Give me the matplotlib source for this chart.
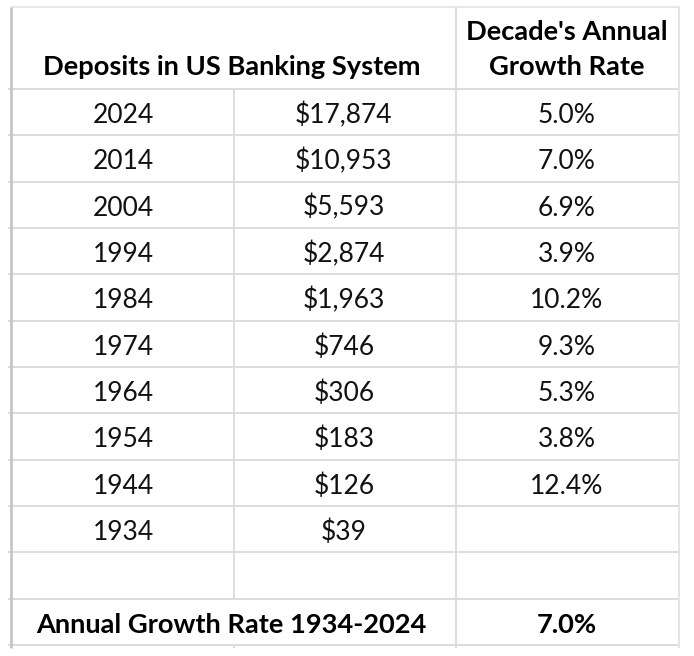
import matplotlib
matplotlib.use("Agg")
import matplotlib.pyplot as plt

# ---- data ----
years = [2024, 2014, 2004, 1994, 1984, 1974, 1964, 1954, 1944, 1934]
deposits = [17874, 10953, 5593, 2874, 1963, 746, 306, 183, 126, 39]
growth = [5.0, 7.0, 6.9, 3.9, 10.2, 9.3, 5.3, 3.8, 12.4, None]
header_left = "Deposits in US Banking System"
header_right = ["Decade's Annual", "Growth Rate"]
summary_label = "Annual Growth Rate 1934-2024"
summary_value = 7.0

# ---- layout (pixels) ----
W, H = 694, 656
fig = plt.figure(figsize=(W / 100, H / 100), dpi=100)
ax = fig.add_axes([0, 0, 1, 1])
ax.set_xlim(0, W)
ax.set_ylim(H, 0)
ax.axis("off")

FONT = "Lato"
FS = 19
FSB = 19.6
grid = "#dadada"

x_left, x_c1, x_c2, x_right = 11, 234, 456, 679
y_top, y_head = 7, 89
n_rows = len(years) + 2
row_h = (645 - y_head) / n_rows
row_tops = [y_head + i * row_h for i in range(n_rows + 1)]
y_bot = row_tops[-1]

# horizontal lines
ax.plot([x_left, x_right], [y_top, y_top], color="#e6e6e6", lw=1.3, solid_capstyle="butt")
for y in row_tops:
    ax.plot([8, x_right], [y, y], color=grid, lw=1.3, solid_capstyle="butt")

# vertical lines
ax.plot([x_left, x_left], [y_top, y_bot + 3], color="#c6c6c6", lw=2.0, solid_capstyle="butt")
ax.plot([x_right, x_right], [y_top, y_bot + 3], color="#e2e2e2", lw=1.3, solid_capstyle="butt")
ax.plot([x_c2, x_c2], [y_top, y_bot + 3], color=grid, lw=1.3, solid_capstyle="butt")
ax.plot([x_c1, x_c1], [y_head, row_tops[-2]], color=grid, lw=1.3, solid_capstyle="butt")
ax.plot([x_c1, x_c1], [y_bot, y_bot + 3], color=grid, lw=1.3, solid_capstyle="butt")

cx1 = (x_left + x_c1) / 2 + 1
cx2 = (x_c1 + x_c2) / 2 - 1
cx3 = (x_c2 + x_right) / 2 - 1
cx12 = (x_left + x_c2) / 2 - 2

# header
ax.text(cx12, 75, header_left, fontfamily=FONT, fontsize=FSB, fontweight="bold",
        ha="center", va="baseline", color="black")
ax.text(cx3, 40, header_right[0], fontfamily=FONT, fontsize=FSB, fontweight="bold",
        ha="center", va="baseline", color="black")
ax.text(cx3, 75, header_right[1], fontfamily=FONT, fontsize=FSB, fontweight="bold",
        ha="center", va="baseline", color="black")

# data rows
for i, (yr, dep, g) in enumerate(zip(years, deposits, growth)):
    yb = row_tops[i] + 34
    ax.text(cx1, yb, str(yr), fontfamily=FONT, fontsize=FS, ha="center", va="baseline", color="#111111")
    ax.text(cx2, yb, f"${dep:,}", fontfamily=FONT, fontsize=FS, ha="center", va="baseline", color="#111111")
    if g is not None:
        ax.text(cx3, yb, f"{g:.1f}%", fontfamily=FONT, fontsize=FS, ha="center", va="baseline", color="#111111")

# summary row
yb = row_tops[-2] + 34
ax.text(cx12, yb, summary_label, fontfamily=FONT, fontsize=FSB, fontweight="bold",
        ha="center", va="baseline")
ax.text(cx3, yb, f"{summary_value:.1f}%", fontfamily=FONT, fontsize=FSB, fontweight="bold",
        ha="center", va="baseline")

fig.savefig("out.png", dpi=100, facecolor="white")
